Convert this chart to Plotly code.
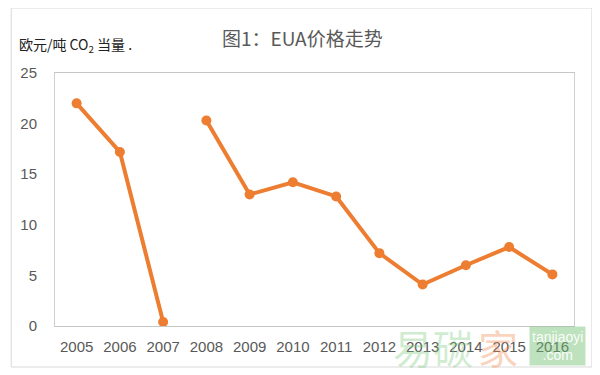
import plotly.graph_objects as go

years = ["2005", "2006", "2007", "2008", "2009", "2010", "2011", "2012", "2013", "2014", "2015", "2016"]
prices = [22.0, 17.2, 0.4, 20.3, 13.0, 14.2, 12.8, 7.2, 4.1, 6.0, 7.8, 5.1]
# Phase I (2005-2007) and Phase II+ (2008-2016) drawn as separate segments
phase1_n = 3

title_text = "图1：EUA价格走势"
unit_text = "欧元/吨 CO<sub>2</sub> 当量 ."

ORANGE = "#ED7D31"
GRAY_TXT = "#595959"

# the page body adds an 8px offset; work in reference pixels and shift
OFF = 8
W, H = 600 - OFF, 375 - OFF
L, R, T, B = 52 - OFF, 574 - OFF, 73 - OFF, 326 - OFF

def px_x(p):
    return (p - OFF - L) / (R - L)

def px_y(p):
    return (B - (p - OFF)) / (B - T)

fig = go.Figure()
for xs, ys in ((years[:phase1_n], prices[:phase1_n]), (years[phase1_n:], prices[phase1_n:])):
    fig.add_trace(go.Scatter(
        x=xs, y=ys, mode="lines+markers",
        line=dict(color=ORANGE, width=4), marker=dict(color=ORANGE, size=10),
        showlegend=False, hoverinfo="x+y"))

fig.update_layout(
    width=W, height=H,
    margin=dict(l=L, r=W - R, t=T, b=H - B),
    paper_bgcolor="white", plot_bgcolor="white",
    font=dict(family="Liberation Sans, Noto Sans CJK SC", color=GRAY_TXT, size=15),
)
fig.update_xaxes(
    type="category", categoryorder="array", categoryarray=years,
    range=[-0.5, len(years) - 0.5],
    showgrid=False, zeroline=False,
    showline=True, linecolor="#c6c6c6", linewidth=1, mirror=True,
    ticks="", ticklabelstandoff=7,
    tickfont=dict(size=15, color=GRAY_TXT),
)
fig.update_yaxes(
    range=[0, 25], tickvals=[0, 5, 10, 15, 20, 25],
    showgrid=False, zeroline=False,
    showline=True, linecolor="#d0d0d0", linewidth=1, mirror=True,
    ticks="", ticklabelstandoff=14,
    tickfont=dict(size=15, color=GRAY_TXT),
)

annotations = [
    dict(text=title_text, x=px_x(301), y=px_y(38), xref="paper", yref="paper",
         xanchor="center", yanchor="middle", showarrow=False,
         font=dict(family="Noto Sans CJK SC", size=19, color=GRAY_TXT)),
    dict(text=unit_text, x=px_x(14), y=px_y(45), xref="paper", yref="paper",
         xanchor="left", yanchor="middle", showarrow=False,
         font=dict(family="Noto Sans CJK SC", size=14, color="#222222")),
    # watermark
    dict(text="易碳", x=px_x(432), y=px_y(347), xref="paper", yref="paper",
         xanchor="center", yanchor="middle", showarrow=False,
         font=dict(family="Noto Sans CJK SC", size=40, color="rgba(120,200,120,0.35)")),
    dict(text="家", x=px_x(498), y=px_y(347), xref="paper", yref="paper",
         xanchor="center", yanchor="middle", showarrow=False,
         font=dict(family="Noto Sans CJK SC", size=40, color="rgba(240,140,80,0.4)")),
    dict(text="tanjiaoyi<br>.com", x=px_x(557), y=px_y(346), xref="paper", yref="paper",
         xanchor="center", yanchor="middle", showarrow=False,
         font=dict(family="Liberation Sans", size=14, color="rgba(255,255,255,0.95)"),
         bgcolor="rgba(110,190,110,0.45)", borderpad=2),
]
fig.update_layout(annotations=annotations)

# outer frame of the picture
fig.add_shape(type="rect", xref="paper", yref="paper",
              x0=px_x(8), x1=px_x(592), y0=px_y(367), y1=px_y(8),
              line=dict(color="#d9d9d9", width=1), fillcolor="rgba(0,0,0,0)", layer="below")

fig.write_html("out.html")
